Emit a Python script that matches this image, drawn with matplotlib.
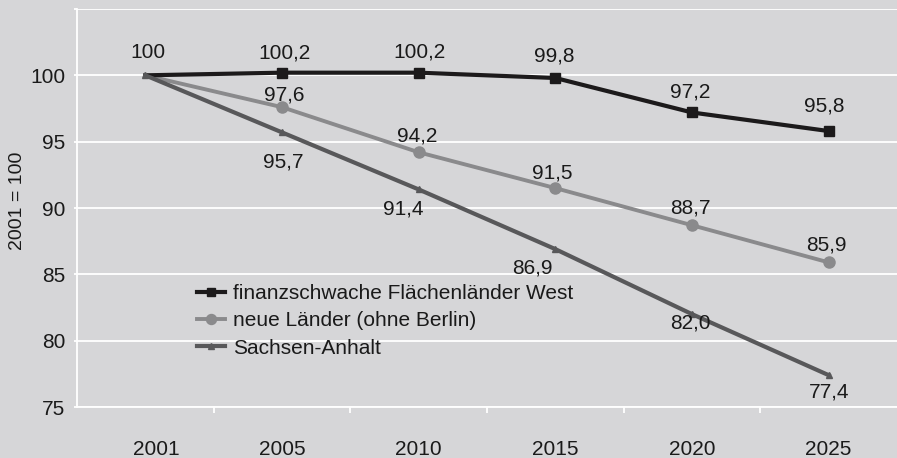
import matplotlib
matplotlib.use("Agg")
import matplotlib.pyplot as plt
import matplotlib.transforms as mtransforms

years = ["2001", "2005", "2010", "2015", "2020", "2025"]
west = [100.0, 100.2, 100.2, 99.8, 97.2, 95.8]
neue = [100.0, 97.6, 94.2, 91.5, 88.7, 85.9]
sachsen = [100.0, 95.7, 91.4, 86.9, 82.0, 77.4]
west_lbl = ["100", "100,2", "100,2", "99,8", "97,2", "95,8"]
neue_lbl = ["", "97,6", "94,2", "91,5", "88,7", "85,9"]
sachsen_lbl = ["", "95,7", "91,4", "86,9", "82,0", "77,4"]
series_names = ["finanzschwache Flächenländer West", "neue Länder (ohne Berlin)", "Sachsen-Anhalt"]
yticks = [75, 80, 85, 90, 95, 100, 105]
ylabel = "2001 = 100"

# label offsets in pixels (dx, dy; dy positive = up)
west_off = [(3, 23), (2, 20), (1, 21), (-1, 22), (-2, 20), (-4, 25)]
neue_off = [(0, 0), (2, 12), (-1, 16), (-3, 15), (-2, 17), (-2, 17)]
sachsen_off = [(0, 0), (1, -30), (-15, -20), (-23, -19), (-2, -9), (0, -17)]

plt.rcParams['font.family'] = ['Liberation Sans', 'DejaVu Sans']
bg = '#d6d6d8'
c_west = '#1c1a1b'
c_neue = '#8a8a8c'
c_sa = '#58585a'
fs = 15

fig = plt.figure(figsize=(8.97, 4.58), dpi=100, facecolor=bg)
ax = fig.add_axes([77/897, 1 - 407/458, 1 - 77/897, (407 - 9)/458])
ax.set_facecolor(bg)
x = list(range(len(years)))
mk = list(range(1, len(years)))

l1, = ax.plot(x, west, color=c_west, lw=3.0, marker='s', ms=7, markevery=mk, zorder=4)
l2, = ax.plot(x, neue, color=c_neue, lw=2.8, marker='o', ms=8, markevery=mk, zorder=3)
l3, = ax.plot(x, sachsen, color=c_sa, lw=3.0, marker='^', ms=5, zorder=5)

for vals, lbls, offs in [(west, west_lbl, west_off), (neue, neue_lbl, neue_off), (sachsen, sachsen_lbl, sachsen_off)]:
    for i, (v, t, o) in enumerate(zip(vals, lbls, offs)):
        if t:
            ax.annotate(t, (x[i], v), xytext=o, textcoords='offset pixels',
                        ha='center', va='center', fontsize=fs, color='#1a1a1a', zorder=6)

ax.set_xlim(-0.5, len(years) - 0.5)
ax.set_ylim(75, 105)
ax.set_yticks(yticks)
ax.set_yticklabels([str(t) if t != 105 else "" for t in yticks])
ax.yaxis.grid(True, color='white', lw=1.3, zorder=0)
ax.set_axisbelow(True)
ax.set_xticks(x)
ax.set_xticklabels(years)
ax.set_xticks([i + 0.5 for i in range(len(years) - 1)], minor=True)
ax.tick_params(axis='x', which='major', length=0, pad=24, labelsize=fs, labelcolor='#1a1a1a')
ax.tick_params(axis='x', which='minor', length=4, color='white', width=1.3, direction='out')
ax.tick_params(axis='y', length=2.5, color='white', width=1.3, pad=6, labelsize=fs, labelcolor='#1a1a1a')
for s in ['top', 'right']:
    ax.spines[s].set_visible(False)
ax.spines['left'].set_color('white')
ax.spines['left'].set_linewidth(1.3)
ax.spines['bottom'].set_color('white')
ax.spines['bottom'].set_linewidth(1.3)

# shift first year label slightly right like the reference
lab0 = ax.get_xticklabels()[0]
lab0.set_transform(lab0.get_transform() + mtransforms.ScaledTranslation(11/100, 0, fig.dpi_scale_trans))

fig.text(17/897, 1 - 201/458, ylabel, rotation=90, ha='center', va='center', fontsize=14, color='#1a1a1a')

leg = ax.legend([l1, l2, l3], series_names, loc='upper left',
                bbox_to_anchor=(197/897, 1 - 284/458), bbox_transform=fig.transFigure,
                frameon=False, fontsize=fs, handlelength=1.35, handletextpad=0.4,
                labelspacing=0.4, borderpad=0, borderaxespad=0, markerscale=0.9)
for t in leg.get_texts():
    t.set_color('#1a1a1a')

fig.savefig('out.png', dpi=100, facecolor=bg)
